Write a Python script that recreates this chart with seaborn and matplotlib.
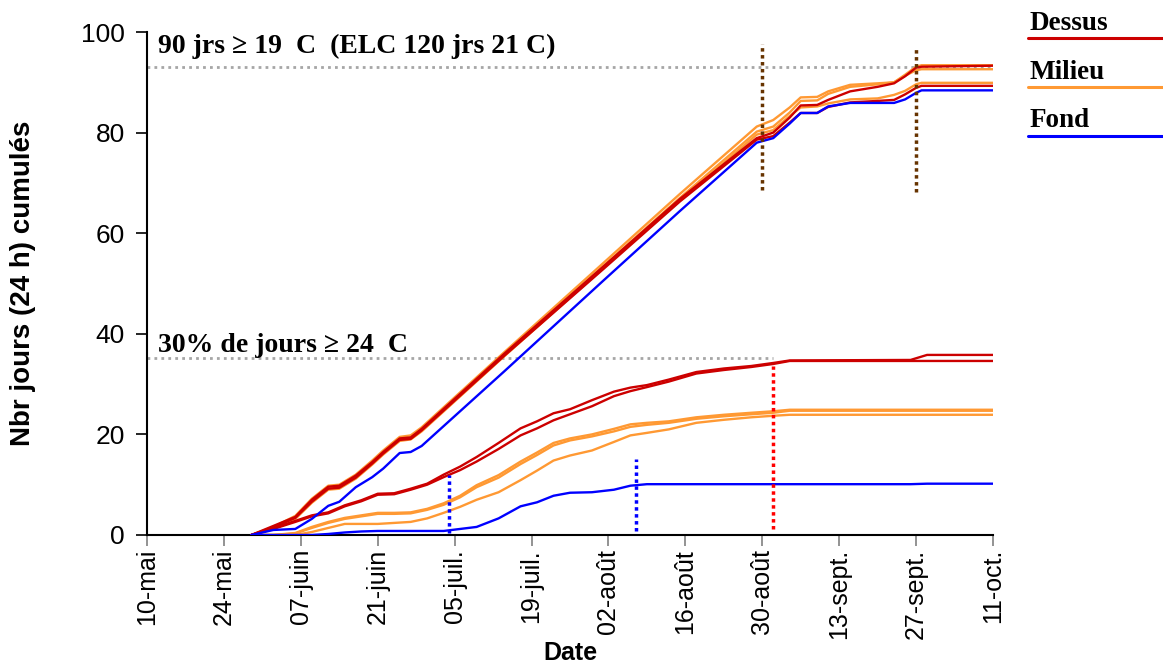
import pandas as pd
import numpy as np
import matplotlib.pyplot as plt
import matplotlib.dates as mdates
from matplotlib.lines import Line2D
import seaborn as sns

# %%
# Data (year is arbitrary, only day-month is shown)
year = "2011"

# cumulative days >= 19 C
dates_19 = ["05-29", "06-02", "06-06", "06-09", "06-12", "06-14", "06-17",
            "06-20", "06-22", "06-25", "06-27", "06-29", "07-14", "08-01",
            "08-15", "08-29", "09-01", "09-04", "09-06", "09-09", "09-11",
            "09-15", "09-20", "09-23", "09-25", "09-27", "09-28", "10-11"]
dessus_a_19 = [0, 1.8, 3.6, 7.0, 9.6, 9.8, 11.8, 14.5, 16.5, 19.2, 19.4, 21.1, 36.0, 53.3,
               66.8, 78.9, 80.0, 83.0, 85.4, 85.5, 86.5, 88.2, 89.1, 89.8, 91.2, 92.9, 93.1, 93.3]
dessus_b_19 = [0, 1.5, 3.4, 6.6, 9.2, 9.4, 11.4, 14.2, 16.2, 18.9, 19.1, 20.8, 35.6, 52.8,
               66.3, 78.6, 79.3, 82.0, 83.9, 83.9, 85.1, 86.0, 86.3, 86.5, 87.6, 88.9, 89.3, 89.3]
milieu_a_19 = [0, 1.6, 3.8, 7.2, 9.8, 10.0, 12.0, 14.8, 16.8, 19.5, 19.8, 21.4, 36.3, 54.0,
               67.8, 81.2, 82.5, 85.0, 87.0, 87.1, 88.2, 89.5, 89.8, 90.0, 91.5, 93.1, 93.4, 93.4]
milieu_b_19 = [0, 1.4, 3.5, 6.8, 9.3, 9.5, 11.6, 14.3, 16.3, 19.0, 19.3, 21.0, 35.8, 53.4,
               67.0, 80.2, 81.2, 84.0, 86.3, 86.4, 87.7, 89.1, 89.6, 90.0, 91.3, 92.4, 92.6, 92.6]
milieu_c_19 = [0, 1.2, 3.2, 6.4, 9.0, 9.2, 11.2, 14.0, 16.0, 18.7, 19.0, 20.6, 35.5, 53.0,
               66.5, 79.6, 80.5, 83.3, 85.0, 85.2, 85.8, 86.6, 86.8, 87.5, 88.3, 89.6, 89.9, 89.9]
fond_19 = [0, 1.0, 1.2, 3.2, 5.8, 6.6, 9.5, 11.5, 13.2, 16.3, 16.5, 17.7, 32.5, 50.5,
           64.4, 78.0, 78.9, 81.8, 83.9, 83.9, 85.2, 85.9, 85.9, 85.9, 86.6, 87.9, 88.4, 88.4]

# cumulative days >= 24 C
dates_24 = ["05-29", "06-02", "06-06", "06-09", "06-12", "06-15", "06-18", "06-21",
            "06-24", "06-27", "06-30", "07-03", "07-06", "07-09", "07-13", "07-17",
            "07-20", "07-23", "07-26", "07-30", "08-03", "08-06", "08-09", "08-13",
            "08-18", "08-23", "08-28", "09-01", "09-04", "09-26", "09-29", "10-11"]
dessus_a_24 = [0, 1.3, 2.8, 3.9, 4.5, 5.9, 6.9, 8.2, 8.3, 9.2, 10.2, 12.0, 13.6, 15.5, 18.3, 21.2,
               22.6, 24.2, 25.0, 26.8, 28.5, 29.3, 29.8, 30.9, 32.4, 33.1, 33.6, 34.2, 34.7, 34.8, 35.8, 35.8]
dessus_b_24 = [0, 1.2, 2.6, 3.7, 4.3, 5.7, 6.7, 8.0, 8.1, 9.0, 10.0, 11.5, 12.9, 14.6, 17.1, 19.8,
               21.2, 22.8, 24.0, 25.6, 27.6, 28.6, 29.4, 30.5, 32.1, 32.8, 33.4, 34.0, 34.6, 34.6, 34.6, 34.6]
milieu_a_24 = [0, 0, 0.4, 1.6, 2.6, 3.4, 3.9, 4.4, 4.4, 4.5, 5.2, 6.3, 7.8, 9.9, 11.9, 14.6,
               16.4, 18.3, 19.2, 20.0, 21.1, 22.0, 22.3, 22.6, 23.4, 23.9, 24.3, 24.6, 24.9, 24.9, 24.9, 24.9]
milieu_b_24 = [0, 0, 0.3, 1.4, 2.4, 3.2, 3.7, 4.2, 4.2, 4.3, 5.0, 6.0, 7.5, 9.5, 11.4, 14.1,
               15.9, 17.8, 18.8, 19.6, 20.6, 21.5, 21.9, 22.3, 23.1, 23.6, 24.0, 24.3, 24.7, 24.7, 24.7, 24.7]
milieu_c_24 = [0, 0, 0, 0.6, 1.4, 2.2, 2.2, 2.2, 2.4, 2.6, 3.3, 4.4, 5.6, 7.0, 8.5, 10.9,
               12.8, 14.8, 15.8, 16.8, 18.5, 19.8, 20.3, 21.0, 22.3, 22.9, 23.4, 23.7, 23.9, 23.9, 23.9, 23.9]
fond_24 = [0, 0, 0, 0, 0.2, 0.5, 0.7, 0.8, 0.8, 0.8, 0.8, 0.8, 1.2, 1.6, 3.3, 5.7,
           6.5, 7.8, 8.4, 8.5, 9.0, 9.8, 10.1, 10.1, 10.1, 10.1, 10.1, 10.1, 10.1, 10.1, 10.2, 10.2]

# Axis ticks
tick_dates = ["05-10", "05-24", "06-07", "06-21", "07-05", "07-19", "08-02",
              "08-16", "08-30", "09-13", "09-27", "10-11"]
tick_labels = ["10-mai", "24-mai", "07-juin", "21-juin", "05-juil.", "19-juil.",
               "02-août", "16-août", "30-août", "13-sept.", "27-sept.", "11-oct."]

# Reference levels and markers
seuil_19 = 93.0
seuil_24 = 35.2
fin_seuil_24 = "09-01"
marqueurs = [("07-04", 0.4, 11.9, "#0000FF"),
             ("08-07", 0.7, 15.1, "#0000FF"),
             ("09-01", 1.2, 33.5, "#FF0000"),
             ("08-30", 68.5, 97.6, "#663300"),
             ("09-27", 68.1, 96.6, "#663300")]

positions = ["Dessus", "Milieu", "Fond"]
colors = {"Dessus": "#CC0000", "Milieu": "#FF9933", "Fond": "#0000FF"}

# %%
def d(md):
    return pd.Timestamp(f"{year}-{md}")

rows = []
curves = [("19", dates_19, "Milieu", "m_a", milieu_a_19), ("19", dates_19, "Milieu", "m_b", milieu_b_19),
          ("19", dates_19, "Milieu", "m_c", milieu_c_19), ("19", dates_19, "Dessus", "d_a", dessus_a_19),
          ("19", dates_19, "Dessus", "d_b", dessus_b_19), ("19", dates_19, "Fond", "f", fond_19),
          ("24", dates_24, "Milieu", "m_a", milieu_a_24), ("24", dates_24, "Milieu", "m_b", milieu_b_24),
          ("24", dates_24, "Milieu", "m_c", milieu_c_24), ("24", dates_24, "Dessus", "d_a", dessus_a_24),
          ("24", dates_24, "Dessus", "d_b", dessus_b_24), ("24", dates_24, "Fond", "f", fond_24)]
for seuil, dates, pos, name, vals in curves:
    for md, v in zip(dates, vals):
        rows.append({"date": d(md), "value": v, "position": pos, "curve": f"{seuil}_{name}"})
df = pd.DataFrame(rows)

# %%
sns.set_style("ticks")
plt.rcParams["font.family"] = ["Liberation Sans", "DejaVu Sans"]
plt.rcParams["text.color"] = "black"
plt.rcParams["axes.labelcolor"] = "black"
plt.rcParams["xtick.color"] = "black"
plt.rcParams["ytick.color"] = "black"

fig = plt.figure(figsize=(11.63, 6.71), dpi=100)
ax = fig.add_axes([0.1264, 0.2027, 0.7274, 0.7496])

sns.lineplot(data=df, x="date", y="value", hue="position", units="curve",
             estimator=None, palette=colors, hue_order=["Milieu", "Dessus", "Fond"],
             legend=False, lw=1.7, ax=ax, zorder=3)

# horizontal thresholds
ax.hlines(seuil_19, d("05-10"), d("10-11"), colors="#A6A6A6", linestyles=(0, (1, 1.5)), lw=2, zorder=2)
ax.hlines(seuil_24, d("05-10"), d(fin_seuil_24), colors="#A6A6A6", linestyles=(0, (1, 1.5)), lw=2, zorder=2)

# vertical markers
for md, y0, y1, c in marqueurs:
    ax.vlines(d(md), y0, y1, colors=c, linestyles=(0, (1, 1)), lw=2.5, zorder=4)

serif = ["Liberation Serif", "DejaVu Serif"]
ax.text(d("05-12"), 95.8, "90 jrs ≥ 19  C  (ELC 120 jrs 21 C)", family=serif,
        fontweight="bold", fontsize=20, va="baseline", ha="left")
ax.text(d("05-12"), 36.4, "30% de jours ≥ 24  C", family=serif,
        fontweight="bold", fontsize=20, va="baseline", ha="left")

ax.set_xlim(d("05-10"), d("10-11"))
ax.set_ylim(0, 100)
ax.set_yticks([0, 20, 40, 60, 80, 100])
ax.set_xticks([d(t) for t in tick_dates])
ax.set_xticklabels(tick_labels, rotation=90)
ax.tick_params(axis="x", labelsize=18, length=8, color="#808080", width=1.2, pad=2)
ax.tick_params(axis="y", labelsize=19, length=8, width=1.2, pad=8)
sns.despine(ax=ax)
for s in ["left", "bottom"]:
    ax.spines[s].set_linewidth(1.5)
    ax.spines[s].set_color("black")

ax.set_xlabel("Date", fontsize=18, fontweight="bold", labelpad=1)
ax.set_ylabel("Nbr jours (24 h) cumulés", fontsize=20, fontweight="bold", labelpad=32)

# legend: label above a coloured line, outside the plot
leg_y = [0.956, 0.883, 0.810]
for pos, yy in zip(positions, leg_y):
    fig.text(0.8856, yy, pos, family=serif, fontweight="bold", fontsize=19.5, va="baseline")
    fig.add_artist(Line2D([0.884, 1.0], [yy - 0.012, yy - 0.012], color=colors[pos], lw=2.2))

fig.savefig("out.png", dpi=100)
